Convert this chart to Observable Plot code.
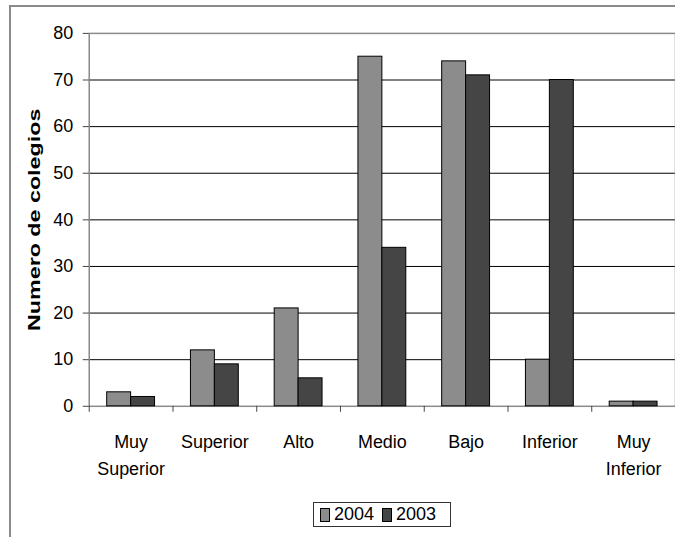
<!DOCTYPE html>
<html>
<head>
<meta charset="utf-8">
<script src="https://cdn.jsdelivr.net/npm/d3@7"></script>
<script src="https://cdn.jsdelivr.net/npm/@observablehq/plot@0.6"></script>
<style>
  html, body { margin: 0; padding: 0; background: #fff; overflow: hidden; }
  #wrap { position: relative; width: 675px; height: 537px; overflow: hidden; background: #fff;
          font-family: "Liberation Sans", Arial, sans-serif; }
  #border { position: absolute; left: 9px; top: 5px; width: 800px; height: 700px;
            border-left: 2px solid #8a8a8a; border-top: 2px solid #8a8a8a; box-sizing: border-box; }
  #chart { position: absolute; left: 0; top: 0; }
  #legend { position: absolute; left: 313px; top: 502px; width: 138px; height: 25px; box-sizing: border-box;
            border: 1px solid #333; display: flex; align-items: center; font-size: 18px; color: #000; }
  .sw { display: inline-block; width: 8px; height: 12px; border: 1px solid #000; margin-left: 6px; margin-right: 4px; }
  .lab { margin-right: 2px; }
</style>
</head>
<body>
<div id="wrap">
  <div id="border"></div>
  <div id="chart"></div>
  <div id="legend"></div>
</div>
<script>
const categories = ["Muy Superior", "Superior", "Alto", "Medio", "Bajo", "Inferior", "Muy Inferior"];
const tickLabels = ["Muy\nSuperior", "Superior", "Alto", "Medio", "Bajo", "Inferior", "Muy\nInferior"];
const series = ["2004", "2003"];
const values2004 = [3, 12, 21, 75, 74, 10, 1];
const values2003 = [2, 9, 6, 34, 71, 70, 1];
const seriesColors = ["#8c8c8c", "#454545"];
const yTicks = [0, 10, 20, 30, 40, 50, 60, 70, 80];
const yLabel = "Numero de colegios";

const rows = [];
categories.forEach((c, i) => {
  rows.push({category: c, year: series[0], value: values2004[i]});
  rows.push({category: c, year: series[1], value: values2003[i]});
});
const labelOf = new Map(categories.map((c, i) => [c, tickLabels[i]]));

const chart = Plot.plot({
  width: 677,
  height: 497,
  marginLeft: 89,
  marginRight: 0,
  marginTop: 33,
  marginBottom: 90,
  style: {fontFamily: "Liberation Sans, Arial, sans-serif", background: "transparent", color: "#000"},
  x: {domain: categories, padding: 0, axis: null},
  y: {domain: [0, 80], axis: null},
  color: {domain: series, range: seriesColors},
  marks: [
    Plot.gridY(yTicks.filter(d => d > 0 && d < 80), {stroke: "#000", strokeOpacity: 1, strokeWidth: 1}),
    Plot.frame({stroke: "#8a8a8a", strokeWidth: 1.5}),
    Plot.barY(rows.filter(d => d.year === series[0]), {x: "category", y: "value", fill: "year",
      stroke: "#000", strokeWidth: 1, insetLeft: 18, insetRight: 42}),
    Plot.barY(rows.filter(d => d.year === series[1]), {x: "category", y: "value", fill: "year",
      stroke: "#000", strokeWidth: 1, insetLeft: 42, insetRight: 18}),
    Plot.axisY({ticks: yTicks, tickSize: 6, tickPadding: 10, fontSize: 18, stroke: "#444", label: null}),
    Plot.axisX({tickSize: 6, tickFormat: () => "", dx: -677 / 2 / 7 + 89 / 14, stroke: "#444", label: null}),
    Plot.axisX({tickSize: 0, tickPadding: 23, fontSize: 18, lineHeight: 1.5,
      tickFormat: d => labelOf.get(d), label: null}),
    Plot.text([yLabel], {frameAnchor: "left", dx: -55, rotate: -90, textAnchor: "middle",
      fontWeight: "bold", fontSize: 17, fill: "#000", className: "ylab"})
  ]
});
document.getElementById("chart").appendChild(chart);

// stretch the rotated axis title to its length in the reference
d3.select(chart).selectAll(".ylab text").attr("textLength", 223).attr("lengthAdjust", "spacingAndGlyphs");

// legend
const legend = d3.select("#legend");
series.forEach((s, i) => {
  legend.append("span").attr("class", "sw").style("background", seriesColors[i]);
  legend.append("span").attr("class", "lab").text(s);
});
</script>
</body>
</html>
